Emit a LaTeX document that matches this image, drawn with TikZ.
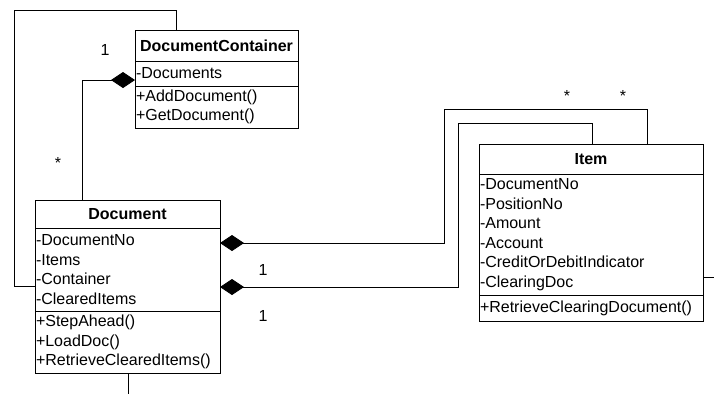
\documentclass[tikz,border=0pt]{standalone}
\usepackage{fontspec}
\setmainfont{Liberation Sans}
\usetikzlibrary{arrows.meta}
\begin{document}
\begin{tikzpicture}[x=1pt,y=-1pt,
  font=\fontsize{16}{19.5}\selectfont,
  comp/.style={draw, line width=1pt, anchor=north west, inner xsep=1pt, inner ysep=0pt, outer sep=0pt},
  hdr/.style={comp, align=center, font=\fontsize{16}{19.5}\selectfont\bfseries},
  lst/.style={comp, align=left},
  conn/.style={draw, line width=0.8pt},
  compo/.style={conn, {Diamond[length=24pt,width=16pt]}-},
  mult/.style={inner sep=0pt}]
\useasboundingbox (0,0) rectangle (714,394);
% DocumentContainer
\node[hdr, text width=161pt, minimum height=31pt] (dcH) at (135,30) {DocumentContainer};
\node[lst, text width=161pt, minimum height=25pt] (dcA) at (dcH.south west) {-Documents};
\node[lst, text width=161pt, minimum height=42pt] (dcM) at (dcA.south west) {+AddDocument()\\+GetDocument()};
% Document
\node[hdr, text width=183pt, minimum height=28pt] (docH) at (35,200) {Document};
\node[lst, text width=183pt, minimum height=83pt] (docA) at (docH.south west) {-DocumentNo\\-Items\\-Container\\-ClearedItems};
\node[lst, text width=183pt, minimum height=62pt] (docM) at (docA.south west) {+StepAhead()\\+LoadDoc()\\+RetrieveClearedItems()};
% Item
\node[hdr, text width=222pt, minimum height=30pt] (itH) at (479,144) {Item};
\node[lst, text width=222pt, minimum height=121pt] (itA) at (itH.south west) {-DocumentNo\\-PositionNo\\-Amount\\-Account\\-CreditOrDebitIndicator\\-ClearingDoc};
\node[lst, text width=222pt, minimum height=26pt] (itM) at (itA.south west) {+RetrieveClearingDocument()};
% connectors
\coordinate (bend1) at (14,10);
\draw[conn] (dcH.north -| 176,0) |- (bend1) |- (docA.west |- 0,286);
\draw[compo] (dcA.west |- 0,80) -| (docH.north -| 82,0);
\draw[compo] (docA.east |- 0,243) -| (444,109) -| (itH.north -| 647,0);
\draw[compo] (docA.east |- 0,287) -| (458,123) -| (itH.north -| 592,0);
\coordinate (docOut) at (128,394);
\draw[conn] (docM.south -| docOut) -- (docOut);
\coordinate (itOut) at (714,277);
\draw[conn] (itA.east |- itOut) -- (itOut);
% multiplicities
\node[mult] (m1) at (105,50) {1};
\node[mult] (m2) at (58,163) {*};
\node[mult] (m3) at (263,270) {1};
\node[mult] (m4) at (263,316) {1};
\node[mult] (m5) at (567,96) {*};
\node[mult] (m6) at (623,96) {*};
\end{tikzpicture}
\end{document}
